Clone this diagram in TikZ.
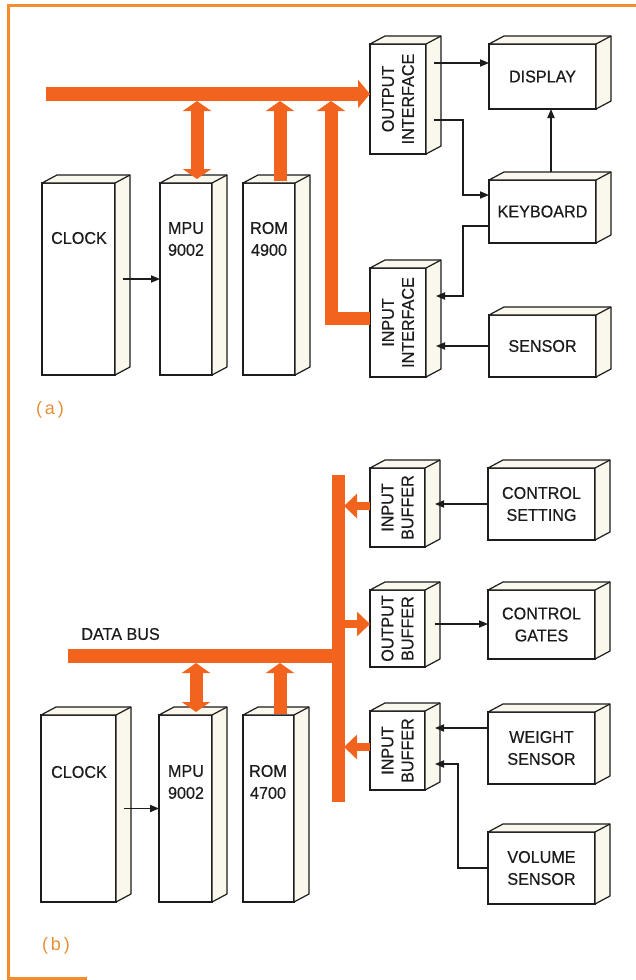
\documentclass[tikz,border=0pt]{standalone}
\usepackage{fontspec}
\setmainfont{Liberation Sans}
\setsansfont{Liberation Sans}
\newfontfamily\lblfont{Liberation Sans}[FakeBold=0.45,FakeStretch=0.95]
\usetikzlibrary{arrows.meta,calc,fit}
\definecolor{busor}{RGB}{242,100,30}
\definecolor{frameor}{RGB}{244,142,44}
\definecolor{labor}{RGB}{232,142,54}
\definecolor{cream}{RGB}{250,248,236}
\definecolor{ink}{RGB}{28,28,28}
\newcommand\mkcube[5]{%
  \node[box, fit={(#2,#3) (#4,#5)}] (#1) {};
  \draw[face] (#1.north west) -- ++(15,-8) -- ($(#1.north east)+(15,-8)$)
     -- ($(#1.south east)+(15,-8)$) -- (#1.south east) -- (#1.north east) -- cycle;
  \draw[face] (#1.north east) -- ++(15,-8);
}
\tikzset{
  bigtip/.tip={Triangle[width=14pt,length=5pt]},
  midtip/.tip={Triangle[width=12pt,length=6.5pt]},
  smalltip/.tip={Triangle[width=3.6pt,length=4.5pt]}
}
\begin{document}
\begin{tikzpicture}[x=0.5pt,y=-0.5pt,
  box/.style={draw=ink, fill=white, line width=0.8pt, inner sep=0pt, outer sep=0pt},
  face/.style={draw=ink, fill=cream, line width=0.6pt, line join=round},
  txt/.style={text=ink, font=\lblfont\fontsize{8.5}{11}\selectfont, align=center, inner sep=0pt},
  rtxt/.style={txt, rotate=90, font=\lblfont\fontsize{8.5}{10}\selectfont},
  arr/.style={draw=ink, line width=0.6pt, -smalltip},
  bus/.style={draw=busor, line width=7pt},
  vbus/.style={draw=busor, line width=6.5pt, line join=miter},
  sbus/.style={draw=busor, line width=4pt},
  lab/.style={text=labor, font=\fontsize{9}{10}\selectfont, inner sep=0pt}
]
\useasboundingbox (0,0) rectangle (636,980);
% frame
\draw[frameor, line width=1.5pt] (636,5) -- (8,5) -- (8,978) -- (87,978);

% ---------------- panel (a) ----------------
\mkcube{clock}{42}{183}{115}{375}
\mkcube{mpu}{160}{183}{212}{375}
\mkcube{rom}{243}{183}{295}{375}
\mkcube{oi}{370}{44}{426}{154}
\mkcube{disp}{489}{44}{596}{109}
\mkcube{kbd}{489}{180}{596}{243}
\mkcube{ii}{370}{268}{426}{377}
\mkcube{sens}{489}{315}{596}{377}

\node[txt] (clockT) at (79,238) {CLOCK};
\node[txt] (mpuT) at (186,239) {MPU\\9002};
\node[txt] (romT) at (269,239) {ROM\\4900};
\node[rtxt] (oiT) at (oi.center) {OUTPUT\\INTERFACE};
\node[rtxt] (iiT) at (ii.center) {INPUT\\INTERFACE};
\node[txt] (dispT) at (disp.center) {DISPLAY};
\node[txt] (kbdT) at (kbd.center) {KEYBOARD};
\node[txt] (sensT) at (sens.center) {SENSOR};

% buses (a)
\coordinate (bL) at (46,94);
\draw[bus, -{Triangle[width=14pt,length=6pt]}] (bL) -- (bL -| oi.west);
\coordinate (mpuA) at (197,179);
\draw[vbus, bigtip-bigtip] (mpuA |- 0,101) -- (mpuA);
\coordinate (romA) at (280,181);
\draw[vbus, -bigtip] (romA) -- (romA |- 0,101);
\draw[vbus, -bigtip] (ii.west |- 0,318) -- (331,318) -- (331,101);

% connectors (a)
\draw[arr] ([xshift=4pt]clock.east) -- (mpu.west |- clock.east);
\coordinate (a1) at (434,63);
\draw[arr] (a1) -- (a1 -| disp.west);
\coordinate (a2) at (434,120);
\draw[arr] (a2) -- (463,120) |- (kbd.west |- 0,195);
\coordinate (a3) at (551,172);
\draw[arr] (a3) -- (a3 |- disp.south);
\coordinate (a4) at (436,296);
\draw[arr] (kbd.west |- 0,226) -| (463,296) -- (a4);
\draw[arr] (sens.west) -- (sens.west -| a4);

\node[lab] (la) at (50,410) {(\,a\,)};

% ---------------- panel (b) ----------------
\mkcube{clockb}{41}{715}{116}{902}
\mkcube{mpub}{159}{715}{212}{902}
\mkcube{romb}{243}{715}{294}{902}
\mkcube{ibo}{370}{468}{425}{547}
\mkcube{cs}{488}{468}{595}{540}
\mkcube{ob}{370}{590}{425}{667}
\mkcube{cg}{488}{590}{595}{659}
\mkcube{ibt}{370}{711}{425}{790}
\mkcube{ws}{488}{712}{595}{784}
\mkcube{vs}{488}{832}{595}{904}

\node[txt] (clockbT) at (79,772) {CLOCK};
\node[txt] (mpubT) at (186,782) {MPU\\9002};
\node[txt] (rombT) at (268,782) {ROM\\4700};
\node[rtxt] (iboT) at (ibo.center) {INPUT\\BUFFER};
\node[rtxt] (obT) at (ob.center) {OUTPUT\\BUFFER};
\node[rtxt] (ibtT) at (ibt.center) {INPUT\\BUFFER};
\node[txt] (csT) at (cs.center) {CONTROL\\SETTING};
\node[txt] (cgT) at (cg.center) {CONTROL\\GATES};
\node[txt] (wsT) at (ws.center) {WEIGHT\\SENSOR};
\node[txt] (vsT) at (vs.center) {VOLUME\\SENSOR};
\node[txt, anchor=west] (dbT) at (81,634) {DATA BUS};

% buses (b)
\coordinate (vT) at (338,475);
\coordinate (vB) at (338,802);
\draw[vbus] (vT) -- (vB);
\coordinate (hL) at (68,656);
\draw[bus] (hL) -- (hL -| vT);
\coordinate (mpuB) at (196,712);
\draw[vbus, bigtip-bigtip] (mpuB |- 0,663) -- (mpuB);
\coordinate (romB) at (280,714);
\draw[vbus, -bigtip] (romB) -- (romB |- 0,663);
\draw[sbus, -midtip] (ibo.west |- 0,506) -- (344,506);
\draw[sbus, -midtip] (344,624) -- (ob.west |- 0,624);
\draw[sbus, -midtip] (ibt.west |- 0,747) -- (344,747);

% connectors (b)
\draw[arr] ([xshift=4pt]clockb.east) -- (mpub.west |- clockb.east);
\coordinate (b1) at (435,504);
\draw[arr] (cs.west |- b1) -- (b1);
\coordinate (b2) at (435,624);
\draw[arr] (b2) -- (b2 -| cg.west);
\coordinate (b3) at (435,728);
\draw[arr] (ws.west |- b3) -- (b3);
\coordinate (b4) at (435,764);
\draw[arr] (vs.west) -| (b4 -| 458,0) -- (b4);

\node[lab] (lb) at (56,946) {(\,b\,)};
\end{tikzpicture}
\end{document}
